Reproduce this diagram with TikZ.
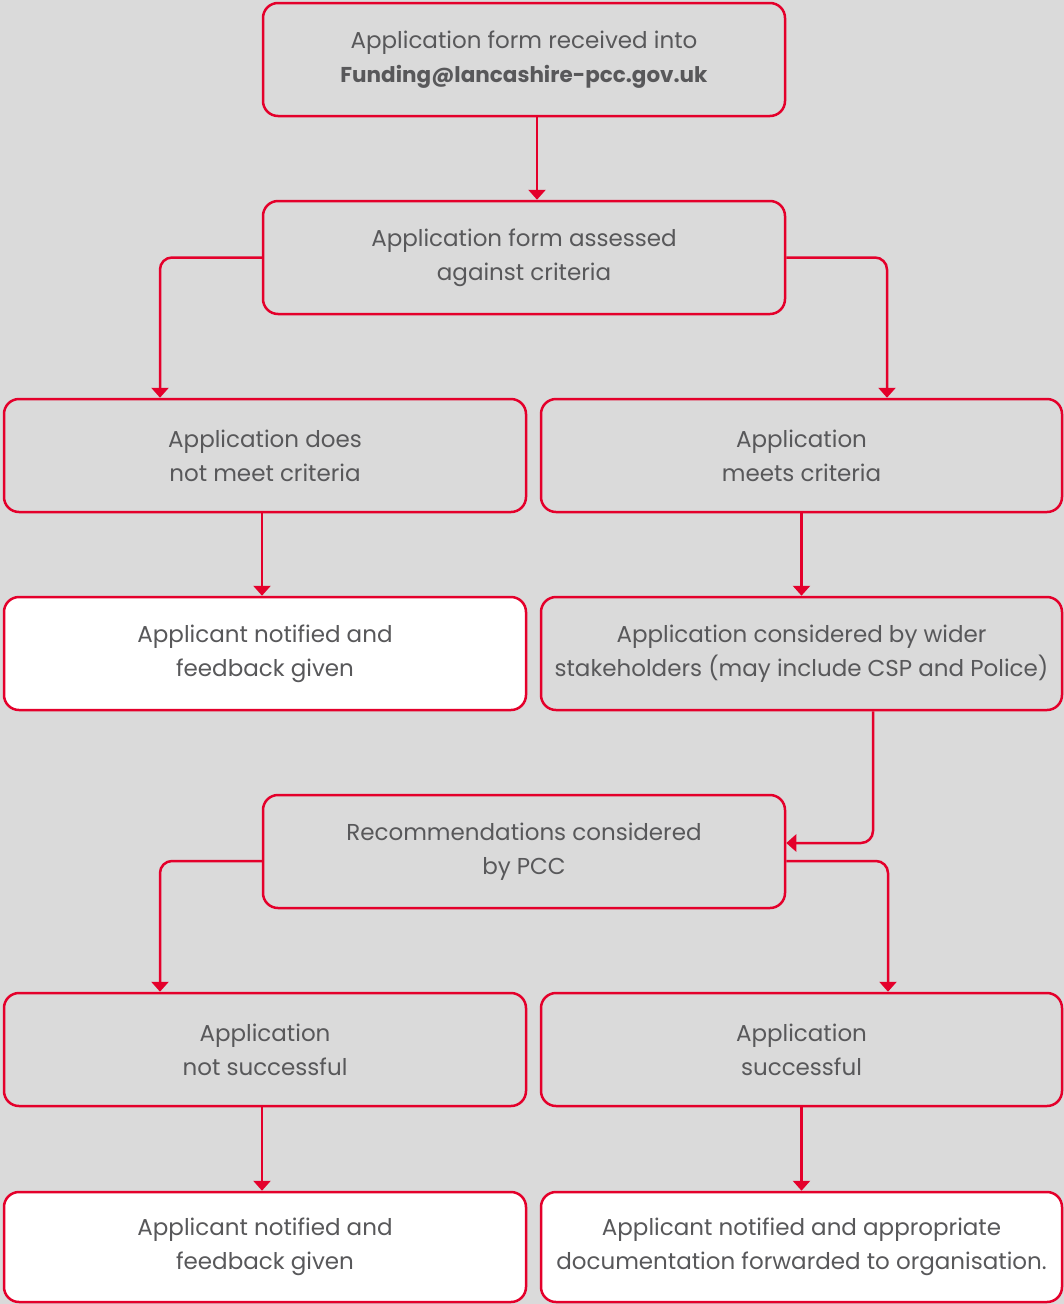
\documentclass[tikz,border=0pt]{standalone}
\usepackage{fontspec}
\setmainfont{Poppins}
\usetikzlibrary{arrows.meta,calc}
\definecolor{bg}{HTML}{DADADA}
\definecolor{rd}{HTML}{E4002B}
\definecolor{tx}{HTML}{58585A}
\tikzset{
  box/.style={draw=rd, line width=2.5pt, rounded corners=15pt, fill=bg,
    minimum width=522pt, minimum height=113pt, align=center, text=tx,
    font=\fontsize{23}{34}\selectfont, inner sep=0pt},
  wbox/.style={box, fill=white},
  arr/.style={draw=rd, line width=2.5pt, rounded corners=12pt,
    -{Triangle[width=17pt,length=10pt]}},
}
\begin{document}
\begin{tikzpicture}[x=1pt,y=-1pt]
\fill[bg] (0,0) rectangle (1064,1304);
\useasboundingbox (0,0) rectangle (1064,1304);
\node[box] (top) at (524,59.5) {Application form received into\\{\fontsize{21.5}{34}\selectfont\bfseries Funding@lancashire-pcc.gov.uk}};
\node[box] (assess) at (524,257.5) {Application form assessed\\against criteria};
\node[box] (nm) at (265,455.5) {Application does\\not meet criteria};
\node[box, minimum width=521pt] (me) at (801.5,455.5) {Application\\meets criteria};
\node[wbox] (nf1) at (265,653.5) {Applicant notified and\\feedback given};
\node[box, minimum width=521pt] (sh) at (801.5,653.5) {Application considered by wider\\stakeholders (may include CSP and Police)};
\node[box] (rec) at (524,851.5) {Recommendations considered\\by PCC};
\node[box] (ns) at (265,1049.5) {Application\\not successful};
\node[box, minimum width=521pt] (su) at (801.5,1049.5) {Application\\successful};
\node[wbox, minimum height=110pt] (nf2) at (265,1247) {Applicant notified and\\feedback given};
\node[wbox, minimum width=521pt, minimum height=110pt] (nf3) at (801.5,1247) {Applicant notified and appropriate\\documentation forwarded to organisation.};

\draw[arr] ($(top.south)+(13,0)$) -- ($(assess.north)+(13,0)$);
\draw[arr] (assess.west) -| ($(nm.north)+(-105,0)$);
\draw[arr] (assess.east) -| ($(me.north)+(85.5,0)$);
\draw[arr] ($(nm.south)+(-3,0)$) -- ($(nf1.north)+(-3,0)$);
\draw[arr] (me.south) -- (sh.north);
\draw[arr] ($(sh.south)+(71.5,0)$) |- ($(rec.east)+(0,-8.5)$);
\draw[arr] ($(rec.west)+(0,9.5)$) -| ($(ns.north)+(-105,0)$);
\draw[arr] ($(rec.east)+(0,9.5)$) -| ($(su.north)+(86.5,0)$);
\draw[arr] ($(ns.south)+(-3,0)$) -- ($(nf2.north)+(-3,0)$);
\draw[arr] (su.south) -- (nf3.north);
\end{tikzpicture}
\end{document}
